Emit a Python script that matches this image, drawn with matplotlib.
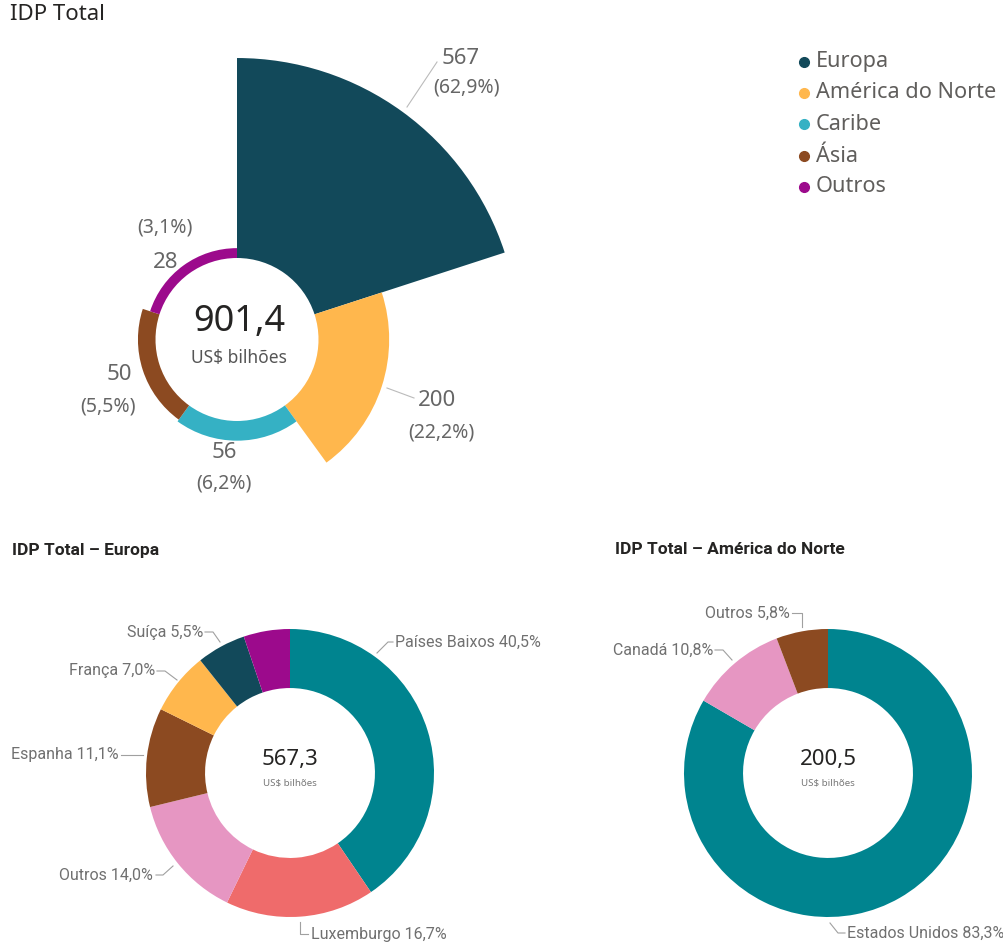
import matplotlib
matplotlib.use("Agg")
import matplotlib.pyplot as plt
import numpy as np
from matplotlib.lines import Line2D

# ---------------- data ----------------
regions = ["Europa", "América do Norte", "Caribe", "Ásia", "Outros"]
region_values = [567.3, 200.5, 55.8, 49.8, 28.0]          # US$ bilhões
region_colors = ["#12495A", "#FFB74D", "#35B1C4", "#8C4A21", "#9C0A8C"]

europa_countries = ["Países Baixos", "Luxemburgo", "Outros", "Espanha", "França", "Suíça", ""]
europa_pct = [40.5, 16.7, 14.0, 11.1, 7.0, 5.5, 5.2]
europa_colors = ["#00848F", "#EF6B6B", "#E696C2", "#8C4A21", "#FFB74D", "#12495A", "#9C0A8C"]
europa_total = 567.3

america_countries = ["Estados Unidos", "Canadá", "Outros"]
america_pct = [83.3, 10.8, 5.8]
america_colors = ["#00848F", "#E696C2", "#8C4A21"]
america_total = 200.5

# ---------------- layout helpers ----------------
W, H = 1004, 948
fig = plt.figure(figsize=(W / 100, H / 100), dpi=100)
fig.patch.set_facecolor("white")


def fx(x):
    return x / W


def fy(y):
    return 1 - y / H


def fmt(v, d=1):
    return f"{v:.{d}f}".replace(".", ",")


def leader(pts, color="#A0A0A0", lw=0.8):
    xs = [fx(p[0]) for p in pts]
    ys = [fy(p[1]) for p in pts]
    fig.add_artist(Line2D(xs, ys, transform=fig.transFigure, color=color, lw=lw))


TOP_FONT = ["Noto Sans", "DejaVu Sans"]
LBL_FONT = ["Roboto", "DejaVu Sans"]
BOLD_FONT = ["Roboto", "DejaVu Sans"]
DARK = "#252423"
GRAY = "#666666"

# ---------------- title ----------------
fig.text(fx(10), fy(15), "IDP Total", ha="left", va="center", fontsize=16,
         color=DARK, family=TOP_FONT)

# ---------------- top aster (rose) chart ----------------
cx, cy, Rmax = 237, 339.5, 285
r_in = 81.5
k = 0.3525  # px of radius per US$ bilhão
ax = fig.add_axes([fx(cx - Rmax), fy(cy + Rmax), 2 * Rmax / W, 2 * Rmax / H], projection="polar")
n = len(regions)
wdt = 2 * np.pi / n
theta = np.arange(n) * wdt + wdt / 2
ax.bar(theta, np.array(region_values) * k, width=wdt, bottom=r_in,
       color=region_colors, linewidth=0, align="center")
ax.set_theta_zero_location("N")
ax.set_theta_direction(-1)
ax.set_ylim(0, Rmax)
ax.set_axis_off()

total = sum(region_values)
fig.text(fx(239), fy(322), fmt(total), ha="center", va="center", fontsize=26,
         color=DARK, family=TOP_FONT)
fig.text(fx(239), fy(358), "US$ bilhões", ha="center", va="center", fontsize=12.5,
         color="#555555", family=TOP_FONT)

# label layout: (value pos, pct pos)
top_label_pos = [((461, 58), (467, 88)),
                 ((437, 400), (441, 433)),
                 ((224, 453), (224, 483)),
                 ((119, 375), (108, 407)),
                 ((166, 263), (165, 228))]
for v, (vp, pp) in zip(region_values, top_label_pos):
    fig.text(fx(vp[0]), fy(vp[1]), fmt(v, 0), ha="center", va="center",
             fontsize=16, color=GRAY, family=TOP_FONT)
    fig.text(fx(pp[0]), fy(pp[1]), "(" + fmt(100 * v / total) + "%)", ha="center",
             va="center", fontsize=14, color=GRAY, family=TOP_FONT)
leader([(407, 107), (437, 62)], color="#BBBBBB")
leader([(387, 388), (414, 398)], color="#BBBBBB")

# legend
leg_y = [62, 93, 124, 156, 187]
for name, c, y in zip(regions, region_colors, leg_y):
    fig.add_artist(Line2D([fx(804)], [fy(y)], transform=fig.transFigure, marker="o",
                          markersize=7, color=c, linestyle=""))
    fig.text(fx(816), fy(y), name, ha="left", va="center", fontsize=15.6,
             color="#605E5C", family=TOP_FONT)


# ---------------- bottom donuts ----------------
def donut(cx, cy, R, pct, colors, rin_frac=0.59):
    a = fig.add_axes([fx(cx - R), fy(cy + R), 2 * R / W, 2 * R / H])
    a.pie(pct, colors=colors, startangle=90, counterclock=False, radius=1,
          wedgeprops=dict(width=1 - rin_frac, linewidth=0))
    a.set_xlim(-1, 1)
    a.set_ylim(-1, 1)
    a.set_axis_off()
    return a


donut(290, 773, 144, europa_pct, europa_colors)
donut(828, 773, 144, america_pct, america_colors)

fig.text(fx(12), fy(550), "IDP Total – Europa", ha="left", va="center", fontsize=12.5,
         fontweight="bold", color=DARK, family=BOLD_FONT)
fig.text(fx(615), fy(550), "IDP Total – América do Norte", ha="left", va="center",
         fontsize=12.5, fontweight="bold", color=DARK, family=BOLD_FONT)

for x, tot in [(290, europa_total), (828, america_total)]:
    fig.text(fx(x), fy(760), fmt(tot), ha="center", va="center", fontsize=16,
             color=DARK, family=TOP_FONT)
    fig.text(fx(x), fy(783), "US$ bilhões", ha="center", va="center", fontsize=7,
             color="#777777", family=TOP_FONT)

# label layouts: (text x, text y, ha, leader points)
europa_label_layout = [
    (395, 642, "left", [(377, 653), (388, 642), (393, 642)]),
    (311, 934, "left", [(300, 922), (300, 934), (308, 934)]),
    (153, 875, "right", [(173, 866), (163, 875), (156, 875)]),
    (119, 755, "right", [(143, 755), (121, 755)]),
    (155, 671, "right", [(177, 680), (165, 671), (157, 671)]),
    (203, 632, "right", [(220, 642), (213, 632), (205, 632)]),
    None,
]
america_label_layout = [
    (847, 933, "left", [(830, 923), (838, 933), (845, 933)]),
    (713, 650, "right", [(732, 660), (723, 650), (715, 650)]),
    (790, 613, "right", [(802, 627), (802, 613), (792, 613)]),
]
for names, pcts, layout in [(europa_countries, europa_pct, europa_label_layout),
                            (america_countries, america_pct, america_label_layout)]:
    for nm, p, lay in zip(names, pcts, layout):
        if lay is None or not nm:
            continue
        x, y, ha, pts = lay
        fig.text(fx(x), fy(y), f"{nm} {fmt(p)}%", ha=ha, va="center", fontsize=11.5,
                 color="#707070", family=LBL_FONT)
        leader(pts)

fig.savefig("out.png", dpi=100, facecolor="white")
